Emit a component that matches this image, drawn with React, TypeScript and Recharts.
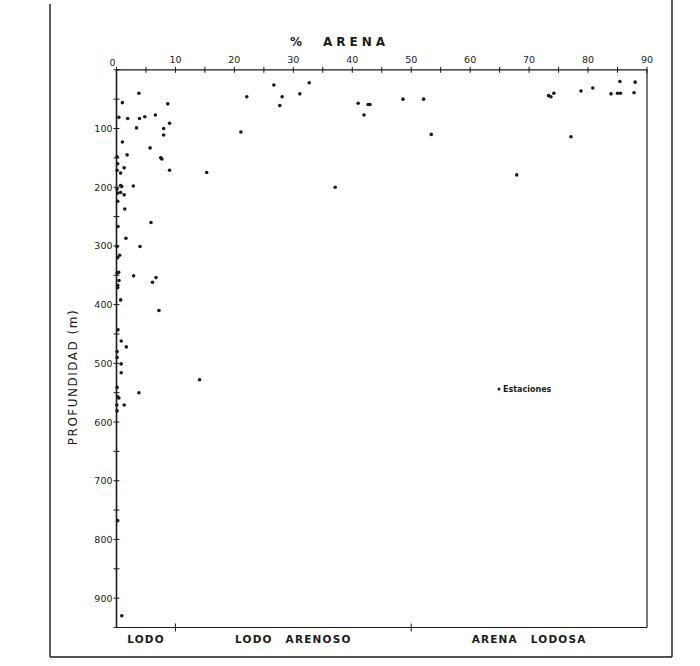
import React from 'react';
import { ScatterChart, Scatter, XAxis, YAxis, ReferenceLine } from 'recharts';

// % arena (x) y profundidad en metros (y) de cada estación
const arenaPct = [
  1.0, 8.7, 3.8, 0.4, 1.9, 3.9, 4.8, 6.6, 9.0, 3.4, 8.0, 8.0, 1.0, 5.7, 1.8, 0.1, 7.5, 7.7, 0.2, 1.3,
  9.0, 0.1, 0.7, 15.3, 0.7, 0.9, 2.85, 0.1, 0.2, 0.7, 1.3, 0.2, 1.4, 5.85, 0.25, 1.6, 4.0, 0.1, 0.54, 0.2,
  0.37, 0.1, 2.9, 6.7, 0.42, 6.1, 0.2, 0.2, 0.7, 7.2, 0.25, 0.8, 1.66, 0.1, 0.1, 0.8, 0.8, 14.1, 0.1, 3.8,
  0.2, 0.4, 1.3, 0.05, 0.1, 0.2, 0.9,
  22.1, 21.1, 26.7, 28.1, 27.7, 31.1, 32.7, 37.1, 41.0, 42.7, 43.0, 42.0, 48.6, 52.1, 53.4,
  73.3, 73.7, 74.2, 77.1, 67.9, 78.8, 80.8, 83.9, 85.0, 85.5, 85.4, 88.0, 87.8,
];
const profundidad = [
  56, 58, 40, 81, 83, 83, 80, 77, 91, 99, 100, 111, 123, 133, 145, 148, 150, 152, 160, 167,
  171, 171, 176, 175, 197, 199, 198, 203, 210, 209, 213, 224, 237, 260, 267, 287, 301, 301, 316, 320,
  345, 346, 351, 354, 359, 362, 367, 371, 392, 410, 443, 462, 472, 480, 490, 501, 516, 528, 541, 550,
  557, 559, 571, 571, 581, 768, 930,
  46, 106, 26, 46, 61, 41, 22, 200, 57, 59, 59, 77, 50, 50, 110,
  44, 46, 40, 114, 179, 36, 31, 41, 40, 40, 20, 21, 39,
];

const xTicks = [0, 5, 10, 15, 20, 25, 30, 35, 40, 45, 50, 55, 60, 65, 70, 75, 80, 85, 90];
const yTicks = [0, 50, 100, 150, 200, 250, 300, 350, 400, 450, 500, 550, 600, 650, 700, 750, 800, 850, 900, 950];
const zonaLimites = [10, 50];
const zonaCentros = [5, 30, 70];
const zonaNombres = ['LODO', 'LODO ARENOSO', 'ARENA LODOSA'];

const estaciones = arenaPct.map((a, i) => ({ arena: a, prof: profundidad[i] }));

const ink = '#1a1a1a';
const font = '"DejaVu Sans", Arial, sans-serif';

const TopTick = ({ x, y, payload }: any) => {
  const v = payload.value;
  return (
    <g>
      <line x1={x} x2={x} y1={y - 3} y2={y + 3} stroke={ink} strokeWidth={1} />
      {v % 10 === 0 && (
        <text x={v === 0 ? x - 4 : x} y={v === 0 ? y - 4 : y - 7} textAnchor="middle" fontSize={9.5} fontFamily={font} fill={ink}>
          {v}
        </text>
      )}
    </g>
  );
};

const LeftTick = ({ x, y, payload }: any) => {
  const v = payload.value;
  return (
    <g>
      <line x1={x - 3} x2={x + 3} y1={y} y2={y} stroke={ink} strokeWidth={1} />
      {v % 100 === 0 && v !== 0 && (
        <text x={x - 4} y={y + 3.5} textAnchor="end" fontSize={9.5} fontFamily={font} fill={ink}>
          {v}
        </text>
      )}
    </g>
  );
};

const ZonaTick = ({ x, y, payload }: any) => {
  const v = payload.value;
  if (zonaLimites.includes(v)) {
    return <line x1={x} x2={x} y1={y - 4} y2={y + 4} stroke={ink} strokeWidth={1} />;
  }
  const nombre = zonaNombres[zonaCentros.indexOf(v)];
  return (
    <text x={x} y={y + 15} textAnchor="middle" fontSize={10.5} fontWeight="bold" letterSpacing={1.2} wordSpacing={8} fontFamily={font} fill={ink}>
      {nombre}
    </text>
  );
};

const Punto = (p: any) => <circle cx={p.cx} cy={p.cy} r={1.8} fill={ink} />;

export default function App() {
  return (
    <div style={{ position: 'absolute', left: 0, top: 0, width: 700, height: 666, background: '#fff' }}>
      <ScatterChart width={700} height={666} margin={{ top: 39.8, right: 53, bottom: 8.5, left: 66.5 }}>
        <XAxis
          xAxisId="arena"
          type="number"
          dataKey="arena"
          orientation="top"
          domain={[0, 90]}
          ticks={xTicks}
          interval={0}
          height={30}
          tickSize={0}
          tickMargin={0}
          tick={<TopTick />}
          axisLine={{ stroke: ink, strokeWidth: 1.2 }}
        />
        <XAxis
          xAxisId="zona"
          type="number"
          dataKey="arena"
          orientation="bottom"
          domain={[0, 90]}
          allowDataOverflow
          ticks={[5, 10, 30, 50, 70]}
          interval={0}
          height={30}
          tickSize={0}
          tickMargin={0}
          tick={<ZonaTick />}
          axisLine={{ stroke: ink, strokeWidth: 1.2 }}
        />
        <YAxis
          type="number"
          dataKey="prof"
          reversed
          domain={[0, 950]}
          ticks={yTicks}
          interval={0}
          width={50}
          tickSize={0}
          tickMargin={0}
          tick={<LeftTick />}
          axisLine={{ stroke: ink, strokeWidth: 1.6 }}
        />
        <ReferenceLine xAxisId="arena" x={90} stroke={ink} strokeWidth={1.2} />
        <Scatter xAxisId="arena" data={estaciones} shape={<Punto />} isAnimationActive={false} />
      </ScatterChart>
      <svg width={700} height={666} style={{ position: 'absolute', left: 0, top: 0, pointerEvents: 'none' }}>
        <line x1={50} x2={50} y1={4} y2={657} stroke={ink} strokeWidth={1.4} />
        <line x1={50} x2={672} y1={657} y2={657} stroke={ink} strokeWidth={1.4} />
        <line x1={672} x2={672} y1={0} y2={657} stroke={ink} strokeWidth={1.4} />
        <text x={296} y={46} textAnchor="middle" fontSize={12} fontWeight="bold" fontFamily={font} fill={ink}>%</text>
        <text x={356} y={46} textAnchor="middle" fontSize={12} fontWeight="bold" letterSpacing={4} fontFamily={font} fill={ink}>ARENA</text>
        <text x={77} y={377} transform="rotate(-90 77 377)" textAnchor="middle" fontSize={12} letterSpacing={1.5} fontFamily={font} fill={ink}>
          PROFUNDIDAD (m)
        </text>
        <circle cx={499} cy={389} r={1.5} fill={ink} />
        <text x={503} y={392} fontSize={8} fontWeight="bold" fontFamily={font} fill={ink}>Estaciones</text>
      </svg>
    </div>
  );
}
